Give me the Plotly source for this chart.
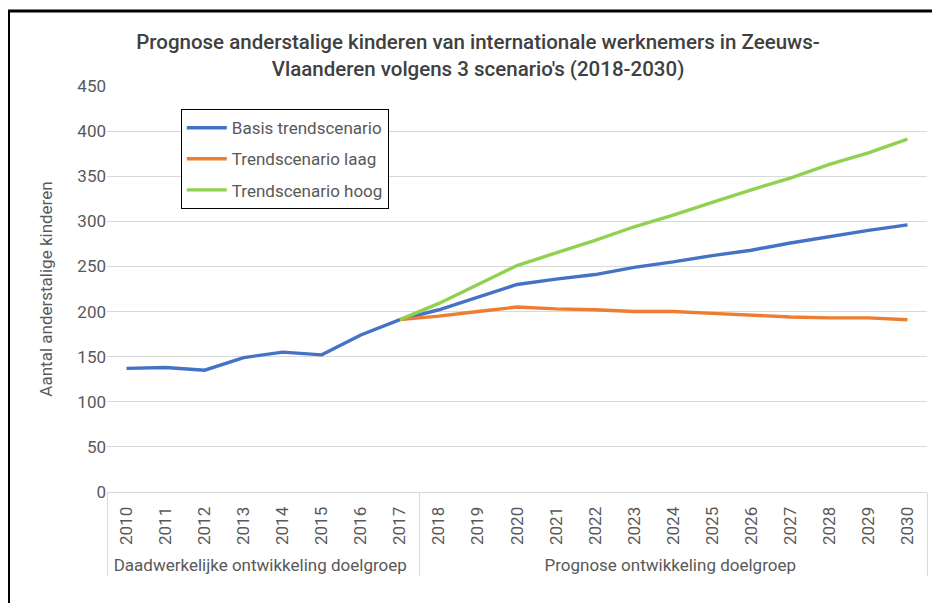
import plotly.graph_objects as go

years = [str(y) for y in range(2010, 2031)]
group_actual = "Daadwerkelijke ontwikkeling doelgroep"
group_prog = "Prognose ontwikkeling doelgroep"
groups = [group_actual] * 8 + [group_prog] * 13

basis = [137, 138, 135, 149, 155, 152, 174, 191,
         202, 216, 230, 236, 241, 249, 255, 262, 268, 276, 283, 290, 296]
laag = [None] * 7 + [191,
        195, 200, 205, 203, 202, 200, 200, 198, 196, 194, 193, 193, 191]
hoog = [None] * 7 + [191,
        209, 230, 251, 265, 279, 294, 307, 321, 335, 348, 363, 376, 391]

names = ["Basis trendscenario", "Trendscenario laag", "Trendscenario hoog"]
colors = ["#4472C4", "#ED7D31", "#92D050"]

fig = go.Figure()
for i, (name, vals, col) in enumerate(zip(names, [basis, laag, hoog], colors)):
    fig.add_trace(go.Scatter(
        x=[groups, years], y=vals, name=name, mode="lines",
        line=dict(color=col, width=3.4), connectgaps=False,
        legendgroup=f"g{i}",
    ))

font_fam = "Roboto, 'Liberation Sans', sans-serif"
fig.update_layout(
    width=940, height=603,
    margin=dict(l=99, r=21, t=78, b=119),
    paper_bgcolor="white", plot_bgcolor="white",
    font=dict(family=font_fam, color="#595959", size=17),
    title=dict(
        text="Prognose anderstalige kinderen van internationale werknemers in Zeeuws-<br>Vlaanderen volgens 3 scenario's (2018-2030)",
        x=0.5, xanchor="center", y=0.932, yanchor="top",
        font=dict(family=font_fam, size=20.5, color="#404040", weight=500),
    ),
    legend=dict(
        x=0.09, y=0.943, xanchor="left", yanchor="top",
        bgcolor="white", bordercolor="black", borderwidth=1,
        font=dict(size=17, color="#595959"),
        tracegroupgap=6, itemwidth=40,
    ),
    showlegend=True,
)
fig.update_yaxes(
    range=[0, 450], dtick=50, showgrid=True, gridcolor="#D9D9D9", gridwidth=1,
    zeroline=False, showline=False, ticks="",
    tickfont=dict(size=17, color="#595959"),
    title=dict(text="Aantal anderstalige kinderen", font=dict(size=17, color="#595959"), standoff=20),
)
fig.update_xaxes(
    type="multicategory", range=[-0.5, 20.5], tickangle=-90, showline=True,
    linecolor="#D9D9D9", linewidth=1, showgrid=False, ticks="",
    showdividers=True, dividercolor="#D9D9D9", dividerwidth=1,
    ticklabelstandoff=7,
    tickfont=dict(size=17, color="#595959"),
)
# outer chart border (only top/left visible in the crop)
fig.add_shape(type="rect", xref="paper", yref="paper",
              x0=-0.1201, x1=1.2, y0=-0.6, y1=1.1847,
              line=dict(color="black", width=3), fillcolor="rgba(0,0,0,0)", layer="above")
fig.write_html("out.html")
